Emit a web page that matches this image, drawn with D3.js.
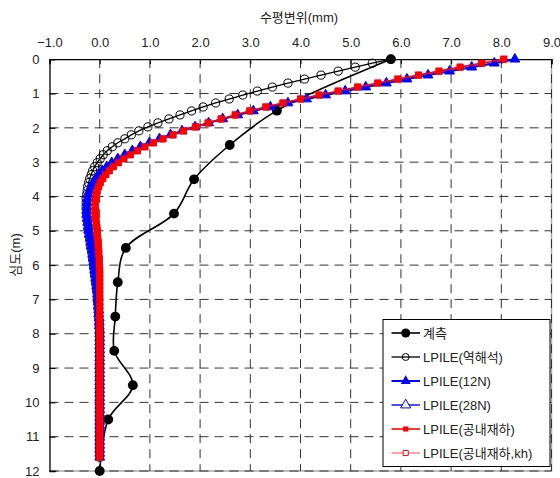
<!DOCTYPE html>
<html><head><meta charset="utf-8">
<script src="https://cdn.jsdelivr.net/npm/d3@7"></script>
<style>
body{margin:0;background:#fff}
svg{display:block}
text{font-family:"Liberation Sans",Arial,"Noto Sans CJK KR",sans-serif;font-size:13px;fill:#222}
</style>
</head><body>
<svg id="chart" width="560" height="478"></svg>
<script>
// ---- data ----
const xTicks = [-1, 0, 1, 2, 3, 4, 5, 6, 7, 8, 9];
const yTicks = [0, 1, 2, 3, 4, 5, 6, 7, 8, 9, 10, 11, 12];
const xTitle = "수평변위(mm)";
const yTitle = "심도(m)";
const seriesNames = ["계측", "LPILE(역해석)", "LPILE(12N)", "LPILE(28N)", "LPILE(공내재하)", "LPILE(공내재하,kh)"];

const measuredDepth = [0, 1.5, 2.5, 3.5, 4.5, 5.5, 6.5, 7.5, 8.5, 9.5, 10.5, 12];
const measuredDisp  = [5.80, 3.53, 2.59, 1.88, 1.48, 0.52, 0.36, 0.31, 0.29, 0.66, 0.17, 0.00];

const lpileDepth = [
  0, 0.116, 0.232, 0.348, 0.464, 0.58, 0.696, 0.812, 0.928, 1.044,
  1.16, 1.276, 1.392, 1.508, 1.624, 1.74, 1.856, 1.972, 2.088, 2.204,
  2.32, 2.436, 2.552, 2.668, 2.784, 2.9, 3.016, 3.132, 3.248, 3.364,
  3.48, 3.596, 3.712, 3.828, 3.944, 4.06, 4.176, 4.292, 4.408, 4.524,
  4.64, 4.756, 4.872, 4.988, 5.104, 5.22, 5.336, 5.452, 5.568, 5.684,
  5.8, 5.916, 6.032, 6.148, 6.264, 6.38, 6.496, 6.612, 6.728, 6.844,
  6.96, 7.076, 7.192, 7.308, 7.424, 7.54, 7.656, 7.772, 7.888, 8.004,
  8.12, 8.236, 8.352, 8.468, 8.584, 8.7, 8.816, 8.932, 9.048, 9.164,
  9.28, 9.396, 9.512, 9.628, 9.744, 9.86, 9.976, 10.092, 10.208, 10.324,
  10.44, 10.556, 10.672, 10.788, 10.904, 11.02, 11.136, 11.252, 11.368, 11.484,
  11.6];

const backAnalysis = [
  5.80, 5.43, 5.09, 4.75, 4.41, 4.08, 3.75, 3.44, 3.14, 2.85,
  2.58, 2.31, 2.06, 1.83, 1.60, 1.38, 1.16, 0.96, 0.78, 0.63,
  0.50, 0.36, 0.25, 0.15, 0.07, 0.01, -0.05, -0.10, -0.14, -0.17,
  -0.20, -0.22, -0.24, -0.25, -0.26, -0.27, -0.27, -0.27, -0.26, -0.26,
  -0.25, -0.24, -0.23, -0.22, -0.21, -0.20, -0.19, -0.18, -0.16, -0.15,
  -0.14, -0.13, -0.12, -0.11, -0.10, -0.09, -0.08, -0.07, -0.06, -0.05,
  -0.05, -0.04, -0.03, -0.03, -0.02, -0.02, -0.01, -0.01, 0, 0,
  0, 0, 0, 0, 0, 0, 0, 0, 0, 0,
  0, 0, 0, 0, 0, 0, 0, 0, 0, 0,
  0, 0, 0, 0, 0, 0, 0, 0, 0, 0,
  0];

const lpile12N = [
  8.27, 7.86, 7.41, 6.97, 6.54, 6.12, 5.71, 5.30, 4.89, 4.50,
  4.12, 3.75, 3.40, 3.06, 2.75, 2.45, 2.17, 1.90, 1.64, 1.41,
  1.19, 0.99, 0.81, 0.65, 0.50, 0.36, 0.24, 0.14, 0.05, -0.02,
  -0.08, -0.13, -0.17, -0.20, -0.22, -0.24, -0.25, -0.26, -0.26, -0.26,
  -0.25, -0.24, -0.23, -0.22, -0.21, -0.19, -0.18, -0.17, -0.15, -0.14,
  -0.13, -0.12, -0.11, -0.10, -0.09, -0.08, -0.07, -0.06, -0.05, -0.04,
  -0.04, -0.03, -0.03, -0.02, -0.02, -0.01, -0.01, -0.01, 0, 0,
  0, 0, 0, 0, 0, 0, 0, 0, 0, 0,
  0, 0, 0, 0, 0, 0, 0, 0, 0, 0,
  0, 0, 0, 0, 0, 0, 0, 0, 0, 0,
  0];

const lpile28N = [
  8.27, 7.86, 7.41, 6.97, 6.54, 6.12, 5.71, 5.30, 4.89, 4.50,
  4.12, 3.75, 3.40, 3.06, 2.75, 2.45, 2.17, 1.90, 1.64, 1.41,
  1.19, 0.99, 0.81, 0.65, 0.50, 0.36, 0.24, 0.14, 0.05, -0.02,
  -0.08, -0.13, -0.17, -0.20, -0.22, -0.24, -0.25, -0.26, -0.26, -0.26,
  -0.25, -0.24, -0.23, -0.22, -0.21, -0.19, -0.18, -0.17, -0.15, -0.14,
  -0.13, -0.12, -0.11, -0.10, -0.09, -0.08, -0.07, -0.06, -0.05, -0.04,
  -0.04, -0.03, -0.03, -0.02, -0.02, -0.01, -0.01, -0.01, 0, 0,
  0, 0, 0, 0, 0, 0, 0, 0, 0, 0,
  0, 0, 0, 0, 0, 0, 0, 0, 0, 0,
  0, 0, 0, 0, 0, 0, 0, 0, 0, 0,
  0];

const pressuremeter = [
  8.05, 7.61, 7.18, 6.76, 6.35, 5.94, 5.54, 5.14, 4.75, 4.37,
  4.00, 3.65, 3.31, 2.99, 2.70, 2.42, 2.16, 1.91, 1.67, 1.46,
  1.26, 1.07, 0.90, 0.75, 0.61, 0.48, 0.37, 0.27, 0.19, 0.12,
  0.06, 0.01, -0.02, -0.05, -0.07, -0.08, -0.09, -0.09, -0.09, -0.09,
  -0.08, -0.07, -0.06, -0.05, -0.05, -0.04, -0.03, -0.03, -0.02, -0.02,
  -0.01, -0.01, -0.01, 0, 0, 0, 0, 0, 0, 0,
  0, 0, 0, 0, 0, 0, 0, 0, 0, 0,
  0, 0, 0, 0, 0, 0, 0, 0, 0, 0,
  0, 0, 0, 0, 0, 0, 0, 0, 0, 0,
  0, 0, 0, 0, 0, 0, 0, 0, 0, 0,
  0];

const pressuremeterKh = [
  8.05, 7.61, 7.18, 6.76, 6.35, 5.94, 5.54, 5.14, 4.75, 4.37,
  4.00, 3.65, 3.31, 2.99, 2.70, 2.42, 2.16, 1.91, 1.67, 1.46,
  1.26, 1.07, 0.90, 0.75, 0.61, 0.48, 0.37, 0.27, 0.19, 0.12,
  0.06, 0.01, -0.02, -0.05, -0.07, -0.08, -0.09, -0.09, -0.09, -0.09,
  -0.08, -0.07, -0.06, -0.05, -0.05, -0.04, -0.03, -0.03, -0.02, -0.02,
  -0.01, -0.01, -0.01, 0, 0, 0, 0, 0, 0, 0,
  0, 0, 0, 0, 0, 0, 0, 0, 0, 0,
  0, 0, 0, 0, 0, 0, 0, 0, 0, 0,
  0, 0, 0, 0, 0, 0, 0, 0, 0, 0,
  0, 0, 0, 0, 0, 0, 0, 0, 0, 0,
  0];

// ---- layout ----
const svg = d3.select("#chart");
const L = 49.5, R = 551.5, T = 59.2, B = 471;
const x = d3.scaleLinear().domain([-1, 9]).range([L, R]);
const y = d3.scaleLinear().domain([0, 12]).range([T, B]);

// frame (right & bottom light)
svg.append("line").attr("x1", R).attr("x2", R).attr("y1", T).attr("y2", B).attr("stroke", "#aaa").attr("stroke-width", 1.5);
svg.append("line").attr("x1", L).attr("x2", R).attr("y1", B).attr("y2", B).attr("stroke", "#aaa").attr("stroke-width", 1.5);

// grid
const grid = svg.append("g").attr("stroke", "#333").attr("stroke-width", 1).attr("stroke-dasharray", "9,6").attr("fill", "none");
xTicks.filter(v => v !== -1).forEach(v => {
  grid.append("line").attr("x1", x(v)).attr("x2", x(v)).attr("y1", T).attr("y2", B);
});
yTicks.filter(v => v !== 0).forEach(v => {
  grid.append("line").attr("x1", L).attr("x2", R).attr("y1", y(v)).attr("y2", y(v));
});

// axes
const xAxis = d3.axisTop(x).tickValues(xTicks).tickFormat(d3.format(".1f")).tickSize(-5).tickPadding(12);
const gx = svg.append("g").attr("transform", `translate(0,${T})`).call(xAxis);
const yAxis = d3.axisLeft(y).tickValues(yTicks).tickFormat(d3.format("d")).tickSize(-6).tickPadding(10);
const gy = svg.append("g").attr("transform", `translate(${L},0)`).call(yAxis);
[gx, gy].forEach(g => {
  g.select(".domain").attr("stroke", "#000").attr("stroke-width", 1.3);
  g.selectAll(".tick line").attr("stroke", "#000");
  g.selectAll(".tick text").attr("font-size", 13).attr("fill", "#222").attr("font-family", null);
});

svg.append("text").attr("x", 299).attr("y", 22).attr("text-anchor", "middle").text(xTitle);
svg.append("text").attr("transform", "translate(20,255) rotate(-90)").attr("text-anchor", "middle").text(yTitle);

// ---- series ----
const zip = (ds, xs) => ds.map((d, i) => ({ d: d, v: xs[i] }));
const line = d3.line().x(p => x(p.v)).y(p => y(p.d));

const plot = svg.append("g");
function marker(g, type, cx, cy, st) {
  const sym = { circle: d3.symbolCircle, triangle: d3.symbolTriangle, square: d3.symbolSquare }[type];
  g.append("path").attr("d", d3.symbol(sym, st.size)()).attr("transform", `translate(${cx},${cy})`)
    .attr("fill", st.fill).attr("stroke", st.stroke).attr("stroke-width", st.sw);
}

const styles = [
  { name: seriesNames[0], color: "#000", lw: 1.6, type: "circle", size: 76, fill: "#000", stroke: "none", sw: 0 },
  { name: seriesNames[1], color: "#000", lw: 1.3, type: "circle", size: 52, fill: "none", stroke: "#000", sw: 1 },
  { name: seriesNames[2], color: "#0000ff", lw: 2, type: "triangle", size: 42, fill: "#0000ff", stroke: "none", sw: 0 },
  { name: seriesNames[3], color: "#0000ff", lw: 1.4, type: "triangle", size: 42, fill: "#fff", stroke: "#0000ff", sw: 1 },
  { name: seriesNames[4], color: "#ff0000", lw: 1.6, type: "square", size: 48, fill: "#ff0000", stroke: "none", sw: 0 },
  { name: seriesNames[5], color: "#ff7070", lw: 1.3, type: "square", size: 36, fill: "#fff", stroke: "#ff0000", sw: 1 }
];

const seriesData = [
  zip(measuredDepth, measuredDisp),
  zip(lpileDepth, backAnalysis),
  zip(lpileDepth, lpile12N),
  zip(lpileDepth, lpile28N),
  zip(lpileDepth, pressuremeter),
  zip(lpileDepth, pressuremeterKh)
];

// draw order: measured, back-analysis, hidden duplicates, then 12N and pressuremeter on top
const order = [0, 1, 3, 5, 2, 4];
order.forEach(k => {
  const st = styles[k], data = seriesData[k];
  const g = plot.append("g");
  const gen = k === 0 ? d3.line().x(p => x(p.v)).y(p => y(p.d)).curve(d3.curveCatmullRom.alpha(0.5)) : line;
  g.append("path").datum(data).attr("d", gen).attr("fill", "none").attr("stroke", st.color).attr("stroke-width", st.lw);
  data.forEach(p => marker(g, st.type, x(p.v), y(p.d), st));
});

// ---- legend ----
const lg = svg.append("g");
lg.append("rect").attr("x", 383).attr("y", 319.5).attr("width", 167).attr("height", 147).attr("fill", "#fff").attr("stroke", "#000").attr("stroke-width", 1);
const legSizes = [66, 38, 44, 44, 26, 26];
styles.forEach((st, i) => {
  const cy = 333 + i * 24;
  lg.append("line").attr("x1", 391.5).attr("x2", 420).attr("y1", cy).attr("y2", cy).attr("stroke", st.color).attr("stroke-width", st.lw);
  marker(lg, st.type, 405.7, cy, Object.assign({}, st, { size: legSizes[i] }));
  lg.append("text").attr("x", 423).attr("y", cy + 5).text(st.name);
});
</script>
</body></html>
